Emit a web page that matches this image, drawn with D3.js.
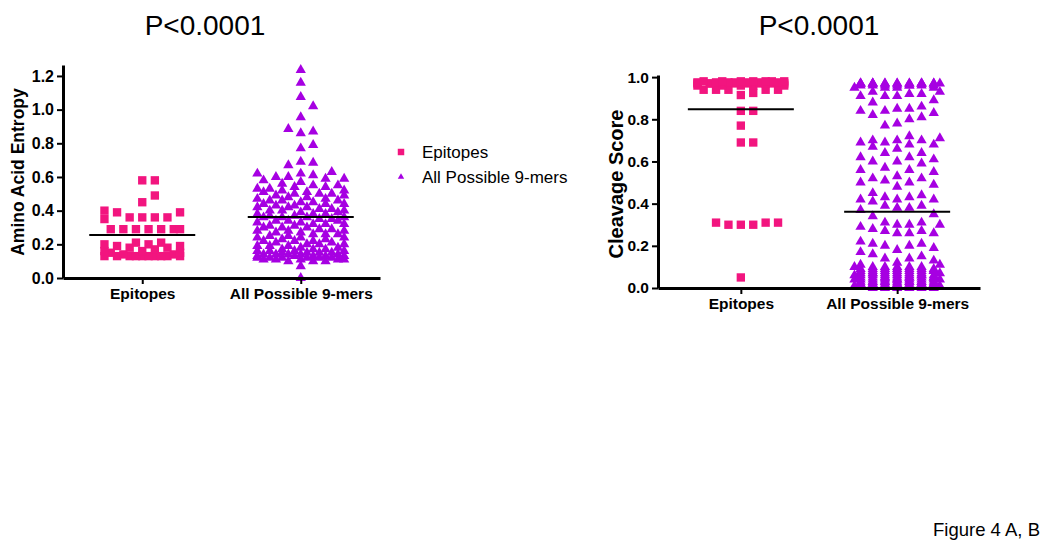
<!DOCTYPE html>
<html><head><meta charset="utf-8">
<script src="https://cdn.jsdelivr.net/npm/d3@7"></script>
<style>
body{margin:0;background:#fff}
svg{display:block}
text{font-family:Arial,"Liberation Sans",sans-serif;fill:#000}
</style>
</head><body>
<svg id="chart" width="1050" height="551"></svg>
<script>
// ---------------- data ----------------
const categories = ["Epitopes", "All Possible 9-mers"];
const pTitles = ["P<0.0001", "P<0.0001"];
const yTitles = ["Amino Acid Entropy", "Cleavage Score"];
const caption = "Figure 4 A, B";
const entropyTicks = [0, 0.2, 0.4, 0.6, 0.8, 1.0, 1.2];
const cleavageTicks = [0, 0.2, 0.4, 0.6, 0.8, 1.0];

const entropyEpitopes = [0.58,0.58,0.49,0.45,0.40,0.39,0.39,0.36,0.36,0.36,0.36,0.35,
  0.29,0.29,0.29,0.29,0.29,0.29,0.29,
  0.21,0.21,0.20,0.20,0.19,0.19,0.18,0.18,0.17,0.16,0.16,0.15,0.15,0.14,0.14,
  0.13,0.13,0.13,0.13,0.13,0.13,0.13,0.13,0.13,0.13];

const entropyAll = [0.00,0.07,
  0.10,0.10,0.10,0.11,0.11,0.11,0.11,0.11,0.12,0.12,0.12,0.12,0.12,0.12,0.13,0.13,0.13,0.13,0.13,
  0.14,0.14,0.14,0.14,0.14,0.15,0.15,0.15,0.15,0.16,0.16,0.16,0.16,0.17,0.17,0.17,0.18,0.18,
  0.19,0.19,0.19,0.20,0.20,0.20,0.21,0.21,0.22,0.22,0.22,0.23,0.23,0.24,0.24,0.24,0.25,0.25,
  0.26,0.26,0.26,0.27,0.27,0.28,0.28,0.28,0.29,0.29,0.30,0.30,0.30,0.31,0.31,0.32,0.32,0.32,
  0.33,0.33,0.34,0.34,0.34,0.35,0.35,0.36,0.36,0.36,0.36,0.37,0.37,0.38,0.38,0.38,0.39,0.39,
  0.40,0.40,0.40,0.41,0.41,0.42,0.42,0.42,0.43,0.43,0.44,0.44,0.44,0.45,0.45,0.46,0.46,0.46,
  0.47,0.47,0.48,0.48,0.49,0.49,0.50,0.50,0.50,0.51,0.51,0.52,0.52,0.53,0.53,0.54,0.54,0.55,
  0.55,0.56,0.57,0.58,0.59,0.59,0.60,0.60,0.61,0.62,0.62,0.63,
  0.67,0.685,0.69,0.77,0.79,0.86,0.87,0.885,0.955,1.02,1.075,1.16,1.235];

const cleavageEpitopes = [0.05,0.30,0.30,0.30,0.31,0.31,0.31,0.69,0.69,0.77,0.84,0.84,0.915,0.925,
  0.94,0.94,0.94,0.94,0.94,0.96,0.96,0.96,0.96,0.96,0.97,0.97,0.97,0.97,0.97,0.97,0.97,0.97,
  0.97,0.97,0.975,0.975,0.975,0.975,0.975,0.975,0.975,0.98,0.98,0.98,0.98,0.98,0.98,0.98];

const cleavageAll = [
  0.00,0.00,0.00,0.00,0.00,0.00,0.01,0.01,0.01,0.01,0.01,0.01,0.01,0.01,0.01,0.01,0.01,0.01,0.01,
  0.02,0.02,0.02,0.02,0.02,0.02,0.02,0.02,0.02,0.02,0.02,0.02,0.03,0.03,0.03,0.03,0.03,0.03,0.03,
  0.03,0.03,0.03,0.03,0.04,0.04,0.04,0.04,0.04,0.04,0.04,0.04,0.04,0.04,0.05,0.05,0.05,0.05,0.05,
  0.05,0.05,0.05,0.05,0.05,0.06,0.06,0.06,0.06,0.06,0.06,0.06,0.06,0.06,0.07,0.07,0.07,0.07,0.07,
  0.07,0.07,0.07,0.08,0.08,0.08,0.08,0.08,0.08,0.08,0.08,0.09,0.09,0.09,0.09,0.09,0.09,0.09,
  0.10,0.10,0.10,0.10,0.10,0.10,
  0.11,0.11,0.12,0.13,0.14,0.14,0.15,0.16,0.17,0.18,0.19,0.20,0.20,0.21,0.21,0.22,
  0.26,0.26,0.26,0.27,0.27,0.28,0.29,0.30,0.30,0.30,0.31,0.31,0.34,0.35,
  0.37,0.38,0.38,0.39,0.39,0.41,0.42,0.42,0.42,0.43,0.43,0.44,0.45,0.48,
  0.49,0.50,0.50,0.51,0.52,0.52,0.53,0.55,0.56,0.56,0.57,
  0.59,0.60,0.60,0.61,0.62,0.62,0.64,0.64,
  0.66,0.67,0.68,0.68,0.69,0.69,0.70,0.70,0.70,0.71,0.72,
  0.77,0.78,0.80,0.81,0.82,0.83,
  0.84,0.84,0.85,0.85,0.86,0.88,0.89,
  0.91,0.91,0.91,0.92,0.92,0.93,0.93,
  0.95,0.95,0.95,0.95,0.96,0.96,0.96,0.96,0.96,0.96,0.96,0.96,
  0.97,0.97,0.97,0.97,0.97,0.97,0.97,0.97,0.97,0.97,0.97,0.97,0.97,0.97,0.97,0.97,0.97,0.97];

const entropyMeans = [0.255, 0.362];
const cleavageMeans = [0.848, 0.362];

// ---------------- style ----------------
const pink = "#f2157f";
const purple = "#a600e2";
const svg = d3.select("#chart");

const sqSym = d3.symbol().type(d3.symbolSquare).size(70);
const triSym = d3.symbol().type(d3.symbolTriangle).size(46);

// column-scatter layout: slots at fixed horizontal step, least-overlap placement
function swarm(values, y, o) {
  const kmax = Math.floor(o.half / o.step);
  const order = [0];
  for (let k = 1; k <= kmax; k++) order.push(k, -k);
  const placed = [];
  values.slice().sort((a, b) => a - b).forEach(v => {
    const py = y(v);
    let best = 0, bestScore = Infinity;
    for (const k of order) {
      const px = k * o.step;
      let overlap = 0;
      for (const p of placed) {
        const ddx = Math.abs(p.dx - px), ddy = Math.abs(p.py - py);
        if (ddx < o.cw && ddy < o.ch) overlap += (o.cw - ddx) * (o.ch - ddy);
      }
      if (k % 2 !== 0) overlap = overlap * o.oddPenalty + (overlap > 0 ? o.oddAdd : 0);
      if (overlap === 0) { best = px; bestScore = 0; break; }
      if (overlap < bestScore - 1e-9) { bestScore = overlap; best = px; }
    }
    placed.push({ v, py, dx: best });
  });
  return placed;
}

function panel(cfg) {
  const g = svg.append("g");
  const x = d3.scalePoint().domain(categories).range([cfg.x0, cfg.x1]).padding(cfg.pad);
  const y = d3.scaleLinear().domain([0, cfg.ymax]).range([cfg.yBottom, cfg.yTop]);

  const groups = [
    { vals: cfg.series[0], sym: sqSym, color: pink, cat: categories[0], lay: cfg.lay[0] },
    { vals: cfg.series[1], sym: triSym, color: purple, cat: categories[1], lay: cfg.lay[1] }
  ];
  groups.forEach(gr => {
    const pts = swarm(gr.vals, y, gr.lay);
    g.append("g").selectAll("path").data(pts).join("path")
      .attr("d", gr.sym)
      .attr("fill", gr.color)
      .attr("transform", d => `translate(${x(gr.cat) + d.dx},${d.py})`);
  });

  g.append("g").selectAll("line").data(cfg.means).join("line")
    .attr("x1", (d, i) => x(categories[i]) - 53)
    .attr("x2", (d, i) => x(categories[i]) + 53)
    .attr("y1", d => y(d)).attr("y2", d => y(d))
    .attr("stroke", "#000").attr("stroke-width", 2);

  const yAxis = g.append("g").attr("transform", `translate(${cfg.x0},0)`)
    .call(d3.axisLeft(y).tickValues(cfg.ticks).tickFormat(d3.format(".1f")).tickSize(6).tickSizeOuter(0).tickPadding(3));
  yAxis.select(".domain").attr("stroke-width", 3).attr("stroke", "#000");
  yAxis.selectAll(".tick line").attr("stroke-width", 2);
  yAxis.selectAll(".tick text").attr("font-size", cfg.tickFs).attr("font-weight", "bold")
    .attr("font-family", "Arial, 'Liberation Sans', sans-serif");

  const xAxis = g.append("g").attr("transform", `translate(0,${cfg.yBottom})`)
    .call(d3.axisBottom(x).tickSize(6).tickSizeOuter(0).tickPadding(4));
  xAxis.select(".domain").attr("stroke-width", 3).attr("stroke", "#000");
  xAxis.selectAll(".tick line").attr("stroke-width", 2);
  xAxis.selectAll(".tick text").attr("font-size", 15.5).attr("font-weight", "bold")
    .attr("font-family", "Arial, 'Liberation Sans', sans-serif");

  g.append("text")
    .attr("transform", `translate(${cfg.titleX},${cfg.titleY}) rotate(-90)`)
    .attr("text-anchor", "middle")
    .attr("font-size", cfg.titleFs).attr("font-weight", "bold")
    .text(cfg.yTitle);

  g.append("text").attr("x", cfg.pX).attr("y", 35)
    .attr("text-anchor", "middle").attr("font-size", 28)
    .text(cfg.pTitle);
}

const layLeftSq = { step: 6.3, half: 44, cw: 11, ch: 15, oddPenalty: 1, oddAdd: 0 };
const layLeftTri = { step: 6.2, half: 44, cw: 11, ch: 11, oddPenalty: 1, oddAdd: 0 };
const layRightSq = { step: 6.2, half: 48, cw: 11, ch: 12, oddPenalty: 1, oddAdd: 0 };
const layRightTri = { step: 6.1, half: 44, cw: 11, ch: 16, oddPenalty: 1.6, oddAdd: 20 };

panel({
  x0: 63, x1: 380, pad: 0.5, yBottom: 278, yTop: 65, ymax: 1.265,
  ticks: entropyTicks, series: [entropyEpitopes, entropyAll], means: entropyMeans,
  lay: [layLeftSq, layLeftTri], tickFs: 16, titleX: 24, titleY: 172, titleFs: 17.5,
  yTitle: yTitles[0], pTitle: pTitles[0], pX: 205
});

panel({
  x0: 658, x1: 980, pad: 0.53, yBottom: 288, yTop: 75, ymax: 1.01,
  ticks: cleavageTicks, series: [cleavageEpitopes, cleavageAll], means: cleavageMeans,
  lay: [layRightSq, layRightTri], tickFs: 15.5, titleX: 623, titleY: 184, titleFs: 20,
  yTitle: yTitles[1], pTitle: pTitles[1], pX: 819
});

const legend = svg.append("g");
const legendItems = [
  { label: categories[0], sym: d3.symbol().type(d3.symbolSquare).size(42), color: pink, y: 152 },
  { label: categories[1], sym: d3.symbol().type(d3.symbolTriangle).size(18), color: purple, y: 177 }
];
legendItems.forEach(it => {
  legend.append("path").attr("d", it.sym()).attr("fill", it.color)
    .attr("transform", `translate(401,${it.y})`);
  legend.append("text").attr("x", 422).attr("y", it.y + 6.3)
    .attr("font-size", 17).text(it.label);
});

svg.append("text").attr("x", 1040).attr("y", 536).attr("text-anchor", "end")
  .attr("font-size", 18.5).text(caption);
</script>
</body></html>
